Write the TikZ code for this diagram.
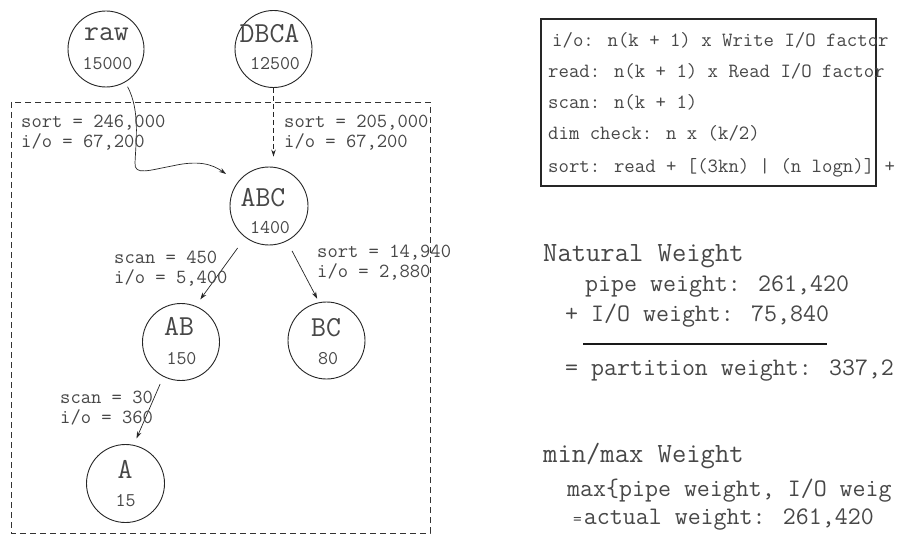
\documentclass[tikz,border=0pt]{standalone}
\usepackage{fontspec}
\usetikzlibrary{arrows.meta}
\newcommand\mfs[1]{\ttfamily\fontsize{#1}{#1}\selectfont}
\begin{document}
\begin{tikzpicture}[x=1pt,y=-1pt,
  circ/.style={draw=black!85,line width=0.9pt,circle,minimum size=#1,inner sep=0pt},
  nm/.style={inner sep=0pt,text=black!72,font=\mfs{29}},
  num/.style={inner sep=0pt,text=black!72,font=\mfs{19.4}},
  lbl/.style={inner sep=0pt,anchor=mid west,text=black!72,font=\mfs{20}},
  rt/.style={inner sep=0pt,anchor=mid west,text=black!72,font=\mfs{20.2}},
  wt/.style={inner sep=0pt,anchor=mid west,text=black!72,font=\mfs{25.2}},
  hd/.style={inner sep=0pt,anchor=mid west,text=black!72,font=\mfs{27.8}},
  edge/.style={draw=black!85,line width=0.7pt,-{Stealth[length=7pt,width=4.5pt]}}
]
\useasboundingbox (0,0) rectangle (901,537);
\clip (0,0) rectangle (901,537);
\fill[white] (0,0) rectangle (901,537);

% dashed partition box
\draw[dashed,dash pattern=on 6pt off 4pt,line width=0.8pt,draw=black!80] (11,102) rectangle (430,533);

% circles
\node[circ=76pt] (raw) at (106,49) {};
\node[circ=77pt] (dbca) at (273.5,49) {};
\node[circ=78pt] (abc) at (269,206) {};
\node[circ=77pt] (ab) at (181,342) {};
\node[circ=77pt] (bc) at (326.5,340.5) {};
\node[circ=78pt] (a) at (125.5,483.5) {};

% circle texts
\node[nm] (rawn) at (106.5,34) {raw};
\node[num] (rawv) at (107.5,64) {15000};
\node[nm] (dbcan) at (269.5,34) {DBCA};
\node[num] (dbcav) at (275,64) {12500};
\node[nm] (abcn) at (263,198) {ABC};
\node[num] (abcv) at (270,228) {1400};
\node[nm] (abn) at (179,326) {AB};
\node[num] (abv) at (181.5,359) {150};
\node[nm] (bcn) at (326,328) {BC};
\node[num] (bcv) at (328,359) {80};
\node[nm] (an) at (125,469) {A};
\node[num] (av) at (125.5,501) {15};

% edges
\draw[edge,shorten <=5pt] (raw.-60) .. controls (140,110) and (136,140) .. (135,163)
   .. controls (134,176) and (150,170) .. (172,166)
   .. controls (198,160) and (212,164) .. (226,174);
\draw[edge,dashed,dash pattern=on 5pt off 3pt,shorten >=10pt] (dbca.south) -- (dbca.south |- abc.north);
\draw[edge,shorten <=13pt,shorten >=8pt] (abc.233.6) -- (ab.68.9);
\draw[edge,shorten <=11pt,shorten >=4pt] (abc.-63) -- (bc.101.3);
\draw[edge,shorten <=8pt,shorten >=7pt] (ab.243.4) -- (a.78.2);

% edge labels
\node[lbl] (l1a) at (21,125) {sort = 246,000};
\node[lbl] (l1b) at (21,145) {i/o = 67,200};
\node[lbl] (l2a) at (284,125) {sort = 205,000};
\node[lbl] (l2b) at (284,145) {i/o = 67,200};
\node[lbl] (l3a) at (114,261) {scan = 450};
\node[lbl] (l3b) at (114,281) {i/o = 5,400};
\node[lbl] (l4a) at (317,255) {sort = 14,940};
\node[lbl] (l4b) at (317,275) {i/o = 2,880};
\node[lbl] (l5a) at (60,401) {scan = 30};
\node[lbl] (l5b) at (60,421) {i/o = 360};

% formula box
\draw[line width=1.5pt,draw=black!85] (541,19) rectangle (876,186);
\node[rt] (f1) at (552,44) {i/o: n(k + 1) x Write I/O factor};
\node[rt] (f2) at (548,75) {read: n(k + 1) x Read I/O factor};
\node[rt] (f3) at (548,106) {scan: n(k + 1)};
\node[rt] (f4) at (548,137) {dim check: n x (k/2)};
\node[rt] (f5) at (548,170) {sort: read + [(3kn) | (n logn)] +};

% natural weight
\node[hd] (nw) at (543,259) {Natural Weight};
\node[wt] (pw) at (585,289) {pipe weight: 261,420};
\node[wt] (iw) at (565,319) {+ I/O weight: 75,840};
\draw[line width=1.6pt,draw=black!90] (583,344) -- (827,344);
\node[wt] (pt) at (565,373) {= partition weight: 337,2};

% min/max weight
\node[hd] (mw) at (543,460) {min/max Weight};
\node[wt] (mx) at (567,494) {max\{pipe weight, I/O weig};
\node[wt] (aw) at (573,522) {{\mfs{17}=}\kern2pt actual weight: 261,420};
\end{tikzpicture}
\end{document}
